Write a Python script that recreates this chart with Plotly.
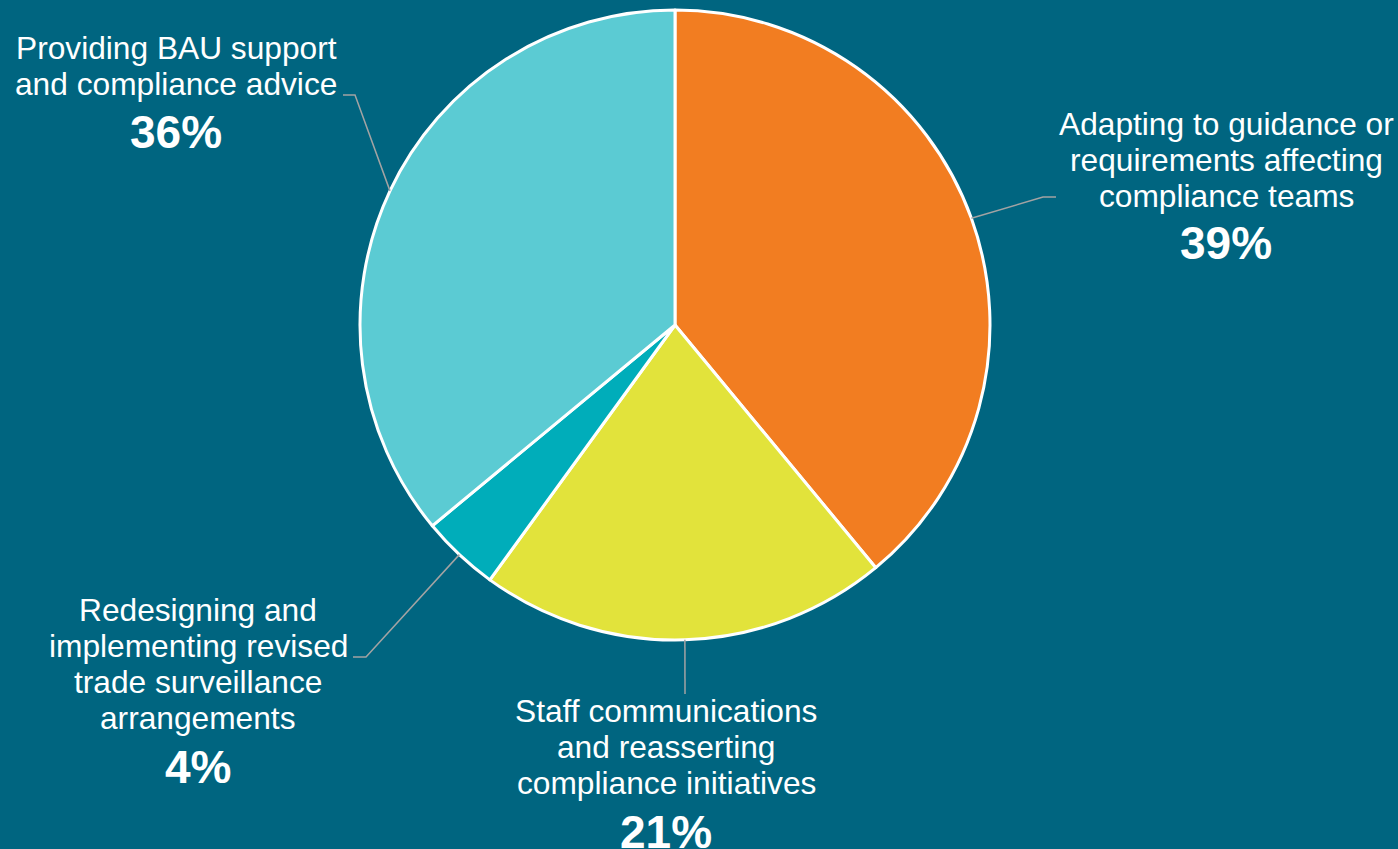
import math
import plotly.graph_objects as go

W, H = 1398, 849

categories = [
    "Adapting to guidance or<br>requirements affecting<br>compliance teams",
    "Staff communications<br>and reasserting<br>compliance initiatives",
    "Redesigning and<br>implementing revised<br>trade surveillance<br>arrangements",
    "Providing BAU support<br>and compliance advice",
]
values = [39, 21, 4, 36]
pct_labels = ["39%", "21%", "4%", "36%"]
colors = ["#F27D21", "#E2E33B", "#00ADBA", "#5BCBD3"]

BG = "#006580"
LINE = "#A3A3A3"
FONT = "Arial, Liberation Sans, sans-serif"
LINE_GAP = 36.3

# pie geometry (pixels)
CX, CY, R = 675, 325, 315

def px(x):
    return x / W

def py(y):
    return 1 - y / H

# label layout (pixel centres) and leader elbows
label_pos = [(1226, 160), (666, 747), (198, 664), (176, 66)]
pct_pos = [(1226, 243), (666, 832), (198, 767), (176, 132)]
elbows = [
    [(1043, 197), (1056, 197)],
    [(685, 694)],
    [(366, 657), (353, 657)],
    [(355, 95), (343, 95)],
]

fig = go.Figure(
    go.Pie(
        labels=[c.replace("<br>", " ") for c in categories],
        values=values,
        sort=False,
        direction="clockwise",
        rotation=0,
        marker=dict(colors=colors, line=dict(color="white", width=3)),
        textinfo="none",
        hoverinfo="none",
        showlegend=False,
        domain=dict(x=[px(CX - R), px(CX + R)], y=[py(CY + R), py(CY - R)]),
    )
)

shapes = []
annotations = []
total = sum(values)
cum = 0
for i, v in enumerate(values):
    mid = (cum + v / 2) / total * 2 * math.pi
    cum += v
    ax = CX + R * math.sin(mid)
    ay = CY - R * math.cos(mid)
    pts = [(ax, ay)] + elbows[i]
    path = "M " + " L ".join(f"{px(x)},{py(y)}" for x, y in pts)
    shapes.append(dict(type="path", xref="paper", yref="paper", path=path,
                       line=dict(color=LINE, width=1.5)))
    lx, ly = label_pos[i]
    lines = categories[i].split("<br>")
    n = len(lines)
    for j, t in enumerate(lines):
        yy = ly + (j - (n - 1) / 2) * LINE_GAP
        annotations.append(dict(
            x=px(lx), y=py(yy), xref="paper", yref="paper", text=t,
            showarrow=False, xanchor="center", yanchor="middle", align="center",
            font=dict(family=FONT, size=31.7, color="white"),
        ))
    qx, qy = pct_pos[i]
    annotations.append(dict(
        x=px(qx), y=py(qy), xref="paper", yref="paper", text=f"<b>{pct_labels[i]}</b>",
        showarrow=False, xanchor="center", yanchor="middle",
        font=dict(family=FONT, size=46, color="white"),
    ))

fig.update_layout(
    width=W, height=H,
    margin=dict(l=0, r=0, t=0, b=0),
    paper_bgcolor=BG, plot_bgcolor=BG,
    shapes=shapes, annotations=annotations,
)

fig.write_html("out.html", config={"displayModeBar": False})
